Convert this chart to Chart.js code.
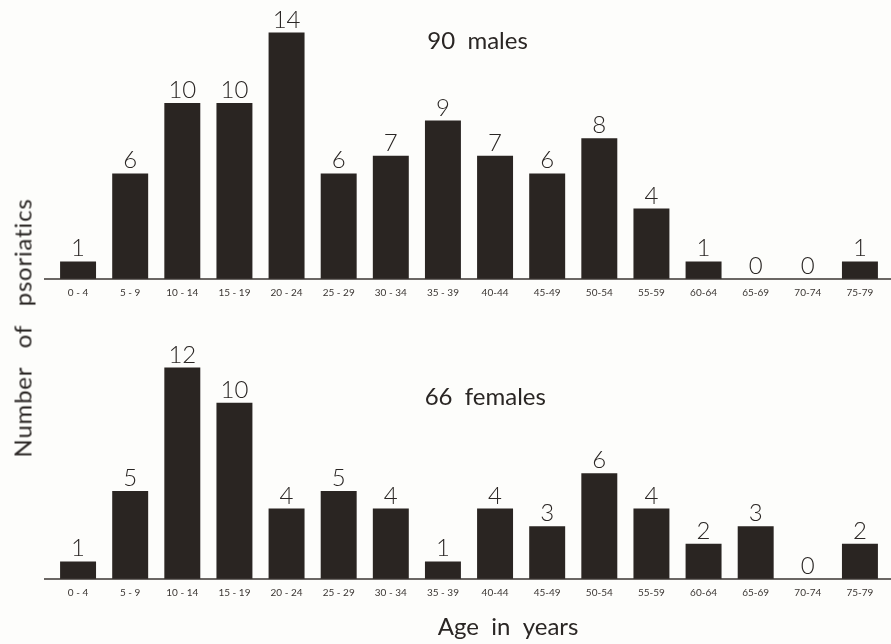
<!DOCTYPE html>
<html>
<head>
<meta charset="utf-8">
<script src="https://cdn.jsdelivr.net/npm/chart.js@4.4.1/dist/chart.umd.min.js"></script>
<style>
  html, body { margin: 0; padding: 0; background: #fdfdfb; }
  #wrap { position: relative; width: 891px; height: 644px; overflow: hidden; background: #fdfdfb; }
  #topBox { position: absolute; left: 0; top: 0; width: 891px; height: 310px; }
  #botBox { position: absolute; left: 0; top: 310px; width: 891px; height: 334px; }
  #ytitle { position: absolute; left: 22px; top: 328px; transform: translate(-50%, -50%) rotate(-90deg);
            font-family: Lato, 'Liberation Sans', sans-serif; font-size: 24px; color: #2a2624;
            white-space: nowrap; word-spacing: 12px; letter-spacing: 0.8px; }
</style>
</head>
<body>
<div id="wrap">
  <div id="topBox"><canvas id="top"></canvas></div>
  <div id="botBox"><canvas id="bot"></canvas></div>
  <div id="ytitle">Number of psoriatics</div>
</div>
<script>
const ageGroups = ["0 - 4","5 - 9","10 - 14","15 - 19","20 - 24","25 - 29","30 - 34","35 - 39","40-44","45-49","50-54","55-59","60-64","65-69","70-74","75-79"];
const maleCounts = [1,6,10,10,14,6,7,9,7,6,8,4,1,0,0,1];
const femaleCounts = [1,5,12,10,4,5,4,1,4,3,6,4,2,3,0,2];
const maleCaption = "90  males";
const femaleCaption = "66  females";
const xTitle = "Age  in  years";

const FONT = "Lato, 'Liberation Sans', sans-serif";
const INK = "#2a2624";
const BAR = "#2a2522";

const labelPlugin = {
  id: 'valueLabels',
  afterDatasetsDraw(chart, args, opts) {
    const ctx = chart.ctx;
    const meta = chart.getDatasetMeta(0);
    const data = chart.data.datasets[0].data;
    const xs = chart.scales.x, ys = chart.scales.y;
    ctx.save();
    // baseline
    const y0 = ys.getPixelForValue(0);
    ctx.strokeStyle = "#3a3532";
    ctx.lineWidth = 1.6;
    ctx.beginPath();
    ctx.moveTo(chart.chartArea.left - 8, y0);
    ctx.lineTo(chart.width, y0);
    ctx.stroke();
    // values
    ctx.fillStyle = INK;
    ctx.font = "300 24px " + FONT;
    ctx.textAlign = "center";
    ctx.textBaseline = "alphabetic";
    meta.data.forEach((bar, i) => {
      ctx.fillText(String(data[i]), bar.x, bar.y - 5);
    });
    // caption
    if (opts.caption) {
      ctx.font = "400 24px " + FONT;
      ctx.textAlign = "left";
      ctx.textBaseline = "middle";
      ctx.fillText(opts.caption, xs.getPixelForValue(opts.cx), ys.getPixelForValue(opts.cy));
    }
    if (opts.xTitle) {
      ctx.font = "400 24px " + FONT;
      ctx.textAlign = "center";
      ctx.textBaseline = "middle";
      ctx.fillText(opts.xTitle, xs.getPixelForValue(opts.tx), chart.height - 17);
    }
    ctx.restore();
  }
};

function makeChart(id, values, ymax, padTop, axisH, caption, cx, cy, extra) {
  return new Chart(document.getElementById(id), {
    type: 'bar',
    data: {
      labels: ageGroups,
      datasets: [{ data: values, backgroundColor: BAR, borderWidth: 0,
                   categoryPercentage: 1.0, barPercentage: 0.69 }]
    },
    options: {
      responsive: true, maintainAspectRatio: false, animation: false,
      layout: { padding: { left: 52, right: 5, top: padTop, bottom: 0 } },
      plugins: {
        legend: { display: false }, tooltip: { enabled: false },
        valueLabels: Object.assign({ caption: caption, cx: cx, cy: cy }, extra || {})
      },
      scales: {
        x: {
          grid: { display: false, drawTicks: false },
          border: { display: false },
          ticks: { color: "#3a3532", font: { family: FONT, size: 10 }, padding: 8, maxRotation: 0, autoSkip: false },
          afterFit(s) { s.height = axisH; }
        },
        y: { display: false, min: 0, max: ymax }
      }
    },
    plugins: [labelPlugin]
  });
}

makeChart('top', maleCounts, 15, 15, 31, maleCaption, 6.7, 13.5);
makeChart('bot', femaleCounts, 13, 40, 65, femaleCaption, 6.65, 10.3, { xTitle: xTitle, tx: 8.25 });
</script>
</body>
</html>
